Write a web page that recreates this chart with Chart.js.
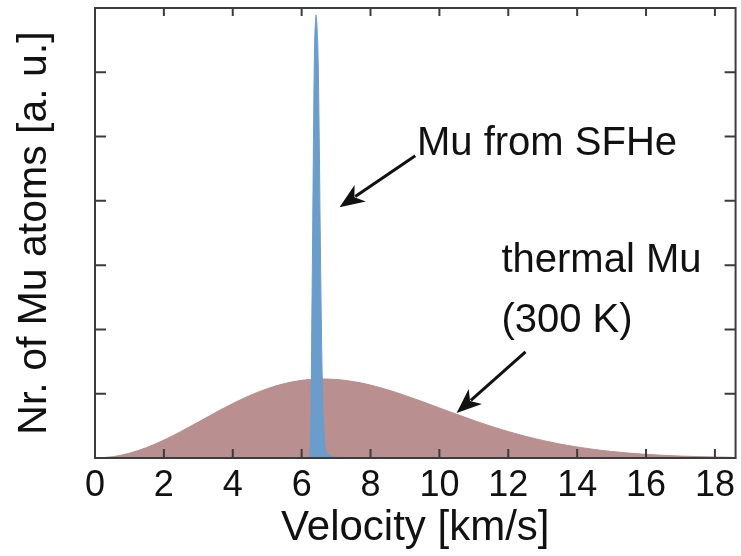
<!DOCTYPE html>
<html>
<head>
<meta charset="utf-8">
<script src="https://cdn.jsdelivr.net/npm/chart.js@4.4.0/dist/chart.umd.min.js"></script>
<style>
html, body { margin: 0; padding: 0; background: #fff; }
#wrap { width: 741px; height: 556px; position: relative; }
</style>
</head>
<body>
<div id="wrap"><canvas id="chart"></canvas></div>
<script>
// thermal Mu (300 K), every 0.5 km/s
var thermalV = [0, 0.5, 1, 1.5, 2, 2.5, 3, 3.5, 4, 4.5, 5, 5.5, 6, 6.5, 7, 7.5, 8, 8.5, 9, 9.5,
  10, 10.5, 11, 11.5, 12, 12.5, 13, 13.5, 14, 14.5, 15, 15.5, 16, 16.5, 17, 17.5, 18, 18.5];
var thermalN = [0, 0.019, 0.075, 0.163, 0.279, 0.414, 0.559, 0.707, 0.847, 0.973, 1.078, 1.157, 1.208, 1.229, 1.222, 1.189, 1.134, 1.060, 0.973, 0.878,
  0.779, 0.680, 0.584, 0.493, 0.411, 0.337, 0.273, 0.217, 0.171, 0.132, 0.101, 0.076, 0.057, 0.042, 0.030, 0.022, 0.015, 0.011];

// Mu from SFHe, the narrow peak near 6.4 km/s
var sfheV = [6.24, 6.27, 6.29, 6.32, 6.35, 6.38, 6.42, 6.47, 6.51, 6.54, 6.57, 6.60, 6.64, 6.70, 6.80, 7.0, 7.2];
var sfheN = [0, 0.6, 1.8, 3.5, 5.3, 6.5, 6.89, 6.4, 5.0, 3.5, 2.2, 1.2, 0.5, 0.12, 0.04, 0.01, 0];

var xTicks = [2, 4, 6, 8, 10, 12, 14, 16, 18];
var yTicks = [1, 2, 3, 4, 5, 6];

// annotations, in data units
var notes = [
  { text: 'Mu from SFHe', x: 9.35, y: 4.71 },
  { text: 'thermal Mu', x: 11.8, y: 2.89 },
  { text: '(300 K)', x: 11.8, y: 1.96 }
];
var arrows = [
  { from: [9.3, 4.7], to: [7.1, 3.9] },
  { from: [12.5, 1.65], to: [10.5, 0.7] }
];

function pts(xs, ys) {
  return xs.map(function (v, i) { return { x: v, y: ys[i] }; });
}

Chart.defaults.font.family = "'Liberation Sans', Arial, Helvetica, sans-serif";
Chart.defaults.color = '#111';

function arrow(ctx, x1, y1, x2, y2) {
  var ang = Math.atan2(y2 - y1, x2 - x1);
  var len = 25, half = 10;
  var c = Math.cos(ang), s = Math.sin(ang);
  var bx = x2 - len * c, by = y2 - len * s;
  ctx.beginPath();
  ctx.moveTo(x1, y1);
  ctx.lineTo(x2 - (len - 6) * c, y2 - (len - 6) * s);
  ctx.stroke();
  ctx.beginPath();
  ctx.moveTo(x2, y2);
  ctx.lineTo(bx + half * s, by - half * c);
  ctx.lineTo(x2 - (len - 7) * c, y2 - (len - 7) * s);
  ctx.lineTo(bx - half * s, by + half * c);
  ctx.closePath();
  ctx.fill();
}

// box, inward ticks and the two labelled arrows
var frame = {
  id: 'frame',
  afterDatasetsDraw: function (chart) {
    var ctx = chart.ctx, a = chart.chartArea, xs = chart.scales.x, ys = chart.scales.y;
    ctx.save();
    ctx.strokeStyle = '#3c3c3c';
    ctx.lineWidth = 2;
    ctx.strokeRect(a.left, a.top, a.right - a.left, a.bottom - a.top);
    ctx.beginPath();
    xTicks.forEach(function (v) {
      var px = xs.getPixelForValue(v);
      ctx.moveTo(px, a.bottom); ctx.lineTo(px, a.bottom - 9);
      ctx.moveTo(px, a.top); ctx.lineTo(px, a.top + 8);
    });
    yTicks.forEach(function (v) {
      var py = ys.getPixelForValue(v);
      ctx.moveTo(a.left, py); ctx.lineTo(a.left + 11, py);
      ctx.moveTo(a.right, py); ctx.lineTo(a.right - 11, py);
    });
    ctx.stroke();

    ctx.fillStyle = '#111';
    ctx.font = "40px 'Liberation Sans', Arial, sans-serif";
    ctx.textBaseline = 'alphabetic';
    notes.forEach(function (n) {
      ctx.fillText(n.text, xs.getPixelForValue(n.x), ys.getPixelForValue(n.y));
    });
    ctx.strokeStyle = '#111';
    ctx.lineWidth = 3;
    arrows.forEach(function (r) {
      arrow(ctx, xs.getPixelForValue(r.from[0]), ys.getPixelForValue(r.from[1]),
        xs.getPixelForValue(r.to[0]), ys.getPixelForValue(r.to[1]));
    });
    ctx.restore();
  }
};

new Chart(document.getElementById('chart').getContext('2d'), {
  type: 'line',
  data: {
    datasets: [{
      label: 'Mu from SFHe',
      data: pts(sfheV, sfheN),
      borderColor: '#6a9dcb',
      backgroundColor: '#6a9dcb',
      borderWidth: 1,
      fill: 'origin',
      pointRadius: 0,
      tension: 0.3
    }, {
      label: 'thermal Mu (300 K)',
      data: pts(thermalV, thermalN),
      borderColor: '#b98f8f',
      backgroundColor: '#b98f8f',
      borderWidth: 1,
      fill: 'origin',
      pointRadius: 0,
      cubicInterpolationMode: 'monotone'
    }]
  },
  options: {
    responsive: true,
    maintainAspectRatio: false,
    animation: false,
    layout: { padding: { top: 8, right: 2, left: 0, bottom: 0 } },
    plugins: { legend: { display: false }, tooltip: { enabled: false } },
    scales: {
      x: {
        type: 'linear',
        min: 0,
        max: 18.6,
        ticks: { stepSize: 2, includeBounds: false, maxRotation: 0, autoSkip: false, padding: 6, font: { size: 36 } },
        grid: { display: false, drawTicks: false },
        border: { display: false },
        title: { display: true, text: 'Velocity [km/s]', font: { size: 42 }, padding: { top: 0, bottom: 2 } },
        afterFit: function (s) { s.height = 98; }
      },
      y: {
        type: 'linear',
        min: 0,
        max: 7,
        ticks: { display: false, stepSize: 1 },
        grid: { display: false, drawTicks: false },
        border: { display: false },
        title: { display: true, text: 'Nr. of Mu atoms [a. u.]', font: { size: 41 }, padding: { top: 10, bottom: 0 } },
        afterFit: function (s) { s.width = 95; }
      }
    }
  },
  plugins: [frame]
});
</script>
</body>
</html>
